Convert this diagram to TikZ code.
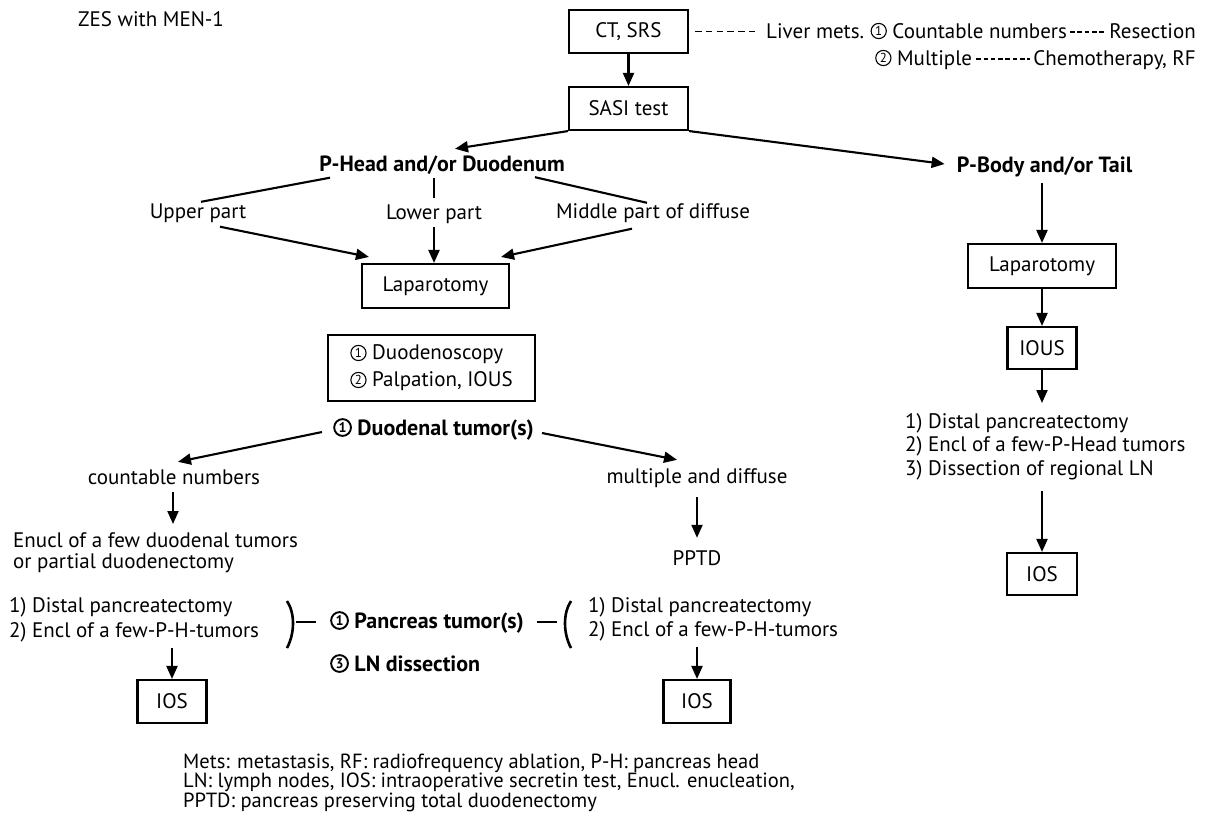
\documentclass[tikz,border=0pt]{standalone}
\usepackage{fontspec}
\setmainfont{PT Sans}
\usetikzlibrary{arrows.meta,calc}

% type sizes
\newcommand{\mainsize}{\fontsize{21}{24}\selectfont}
\newcommand{\boldsize}{\fontsize{22}{24}\selectfont\bfseries}
% first-line strut for multi-line blocks
\newcommand{\tst}{\rule{0pt}{16pt}}
% circled digits, regular and bold
\newcommand{\cnum}[1]{\tikz[baseline={(0pt,0pt)}]{\draw[line width=1.1pt] (0pt,7pt) circle[radius=7.6pt];
  \pgftext[at={\pgfpoint{0pt}{7pt}}]{\fontsize{13}{13}\selectfont #1}}}
\newcommand{\cnumb}[1]{\tikz[baseline={(0pt,0pt)}]{\draw[line width=1.9pt] (0pt,7.5pt) circle[radius=8.4pt];
  \pgftext[at={\pgfpoint{0pt}{7.5pt}}]{\fontsize{14}{14}\selectfont\bfseries #1}}}

\begin{document}
\begin{tikzpicture}[x=1pt,y=-1pt,
  box/.style={draw,line width=2.1pt,inner sep=0pt,font=\mainsize},
  txt/.style={inner sep=0pt,text height=14.5pt,text depth=4.5pt,font=\mainsize},
  btxt/.style={txt,font=\boldsize},
  blk/.style={inner sep=0pt,align=left},
  arr/.style={line width=2.1pt,-{Triangle[length=13pt,width=11pt]}},
  link/.style={line width=2.1pt},
  dsh/.style={line width=1.6pt,dash pattern=on 6.5pt off 4.3pt},
  dshs/.style={line width=1.6pt,dash pattern=on 4.5pt off 2.8pt},
]
\useasboundingbox (0,0) rectangle (1209,820);

% ---------- title and imaging ----------
\node[txt,anchor=west] (zes) at (78,21) {ZES with MEN-1};
\node[box,minimum width=119pt,minimum height=43pt] (ct) at (628.5,31.5) {CT, SRS};
\node[box,minimum width=119pt,minimum height=43pt] (sasi) at (628.5,108.5) {SASI test};
\draw[arr] (ct) -- (sasi);

% liver metastases note
\node[txt,anchor=west] (liv) at (766,33) {Liver mets.};
\node[txt,anchor=west] (lc1) at ($(liv.east)+(6,0)$) {\cnum{1} Countable numbers};
\node[txt,anchor=east] (res) at (1196,33) {Resection};
\node[txt,anchor=west] (lc2) at (875,60) {\cnum{2} Multiple};
\node[txt,anchor=east] (chemo) at (1196,60) {Chemotherapy, RF};
\draw[dsh] ($(ct.east)+(6,0)$) -- ($(ct.east -| liv.west)+(-11,0)$);
\draw[dshs] ($(lc1.east)+(3,-1)$) -- ($(res.west)+(-3,-1)$);
\draw[dshs] ($(lc2.east)+(4,-1)$) -- ($(chemo.west)+(-3,-1)$);

% ---------- localisation ----------
\node[btxt] (phd) at (442,166) {P-Head and/or Duodenum};
\node[btxt] (pbd) at (1044.5,167) {P-Body and/or Tail};
\draw[arr] (sasi.south west) -- ($(phd.north)+(13,-7.5)$);
\draw[arr] (sasi.south east) -- ($(pbd.west)+(-12,-3)$);

\node[txt] (upper) at (198,213) {Upper part};
\node[txt] (lower) at (434,214) {Lower part};
\node[txt] (middle) at (653,213) {Middle part of diffuse};
\draw[link] ($(phd.south)+(-112,2)$) -- ($(upper.north)+(3,-1.5)$);
\draw[link] ($(phd.south)+(-8,2.5)$) -- ($(lower.north)+(0,-6)$);
\draw[link] ($(phd.south)+(93,1.5)$) -- ($(middle.north)+(-6,-0.5)$);

\node[box,minimum width=147pt,minimum height=44pt] (lap1) at (435.5,286) {Laparotomy};
\draw[arr] ($(upper.south)+(22,4)$) -- ($(lap1.north west)+(8,-6)$);
\draw[arr] ($(lower.south)+(0,3)$) -- (lower.south |- lap1.north);
\draw[arr] ($(middle.south)+(-21,6)$) -- ($(lap1.north east)+(-9,-6)$);

\node[box,minimum width=207pt,minimum height=66pt,align=left,font={\fontsize{21}{27}\selectfont}] (duo) at (431.5,368)
  {\cnum{1} Duodenoscopy\\\cnum{2} Palpation, IOUS};

% ---------- duodenal tumours ----------
\node[btxt] (dtum) at (433.5,430) {\cnumb{1} Duodenal tumor(s)};
\node[txt] (cnt) at (174,479) {countable numbers};
\node[txt] (mult) at (697,478) {multiple and diffuse};
\draw[arr] ($(dtum.west)+(-11,2)$) -- ($(cnt.north)+(4,-7.5)$);
\draw[arr] ($(dtum.east)+(8,3)$) -- ($(mult.north)+(-20,-8.5)$);

\node[blk,anchor=north west,font={\fontsize{21}{21.5}\selectfont}] (enucl) at (13,531)
  {\tst Enucl of a few duodenal tumors\\or partial duodenectomy};
\node[txt] (pptd) at (697,560) {PPTD};
\coordinate (cntfoot) at ($(cnt.south)+(-1,3.5)$);
\draw[arr,shorten >=7pt] (cntfoot) -- (cntfoot |- enucl.north);
\draw[arr,shorten >=12.5pt] ($(mult.south)+(0,9.5)$) -- (pptd.north);

% ---------- pancreatic tumours ----------
\node[blk,anchor=north west,font={\fontsize{21}{24.5}\selectfont}] (listl) at (9,596.5)
  {\tst 1) Distal pancreatectomy\\2) Encl of a few-P-H-tumors};
\node[blk,anchor=north west,font={\fontsize{21}{24}\selectfont}] (listr) at (588,596.5)
  {\tst 1) Distal pancreatectomy\\2) Encl of a few-P-H-tumors};
\node[btxt,anchor=west] (ptum) at (330,623) {\cnumb{1} Pancreas tumor(s)};
\node[btxt,anchor=west] (lnd) at (330,666) {\cnumb{3} LN dissection};

% brackets and dashes joining the two treatment lists
\draw[line width=2.6pt] ($(ptum.west)+(-43,-22)$) .. controls ($(ptum.west)+(-35,-10)$) and ($(ptum.west)+(-35,10)$) .. ($(ptum.west)+(-43,25)$);
\draw[link] ($(ptum.west)+(-34,-1)$) -- ($(ptum.west)+(-14,-1)$);
\draw[line width=2.6pt] ($(listr.west |- ptum.west)+(-17,-22)$) .. controls ($(listr.west |- ptum.west)+(-25,-10)$) and ($(listr.west |- ptum.west)+(-25,10)$) .. ($(listr.west |- ptum.west)+(-17,25)$);
\draw[link] ($(listr.west |- ptum.west)+(-51,-1)$) -- ($(listr.west |- ptum.west)+(-31,-1)$);

\node[box,minimum width=69pt,minimum height=43pt] (iosl) at (172,701.5) {IOS};
\node[box,minimum width=67pt,minimum height=43pt] (iosr) at (697,701.5) {IOS};
\draw[arr] ($(iosl.north |- listl.south)+(0,5.5)$) -- (iosl.north);
\draw[arr] ($(iosr.north |- listr.south)+(0,5.5)$) -- (iosr.north);

% ---------- body / tail branch ----------
\node[box,minimum width=148pt,minimum height=44pt] (lap2) at (1042,266) {Laparotomy};
\node[box,minimum width=69pt,minimum height=42pt] (ious) at (1042,348) {IOUS};
\node[blk,anchor=north west,font={\fontsize{21}{23.5}\selectfont}] (listb) at (905,412)
  {\tst 1) Distal pancreatectomy\\2) Encl of a few-P-Head tumors\\3) Dissection of regional LN};
\node[box,minimum width=70pt,minimum height=42pt] (iosb) at (1042,574) {IOS};
\draw[arr] ($(pbd.south -| lap2.north)+(0,6.5)$) -- (lap2.north);
\draw[arr] (lap2) -- (ious);
\draw[arr,shorten >=9pt] (ious.south) -- (ious.south |- listb.north);
\draw[arr] ($(iosb.north |- listb.south)+(0,10.5)$) -- (iosb.north);

% ---------- abbreviations ----------
\node[blk,anchor=north west,font={\fontsize{20.5}{19.5}\selectfont\lineskiplimit=-10pt}] (abbr) at (183,753)
  {\rule{0pt}{15pt}Mets: metastasis, RF: radiofrequency ablation, P-H: pancreas head\\
   LN: lymph nodes, IOS: intraoperative secretin test, Enucl. enucleation,\\
   PPTD: pancreas preserving total duodenectomy};
\end{tikzpicture}
\end{document}
